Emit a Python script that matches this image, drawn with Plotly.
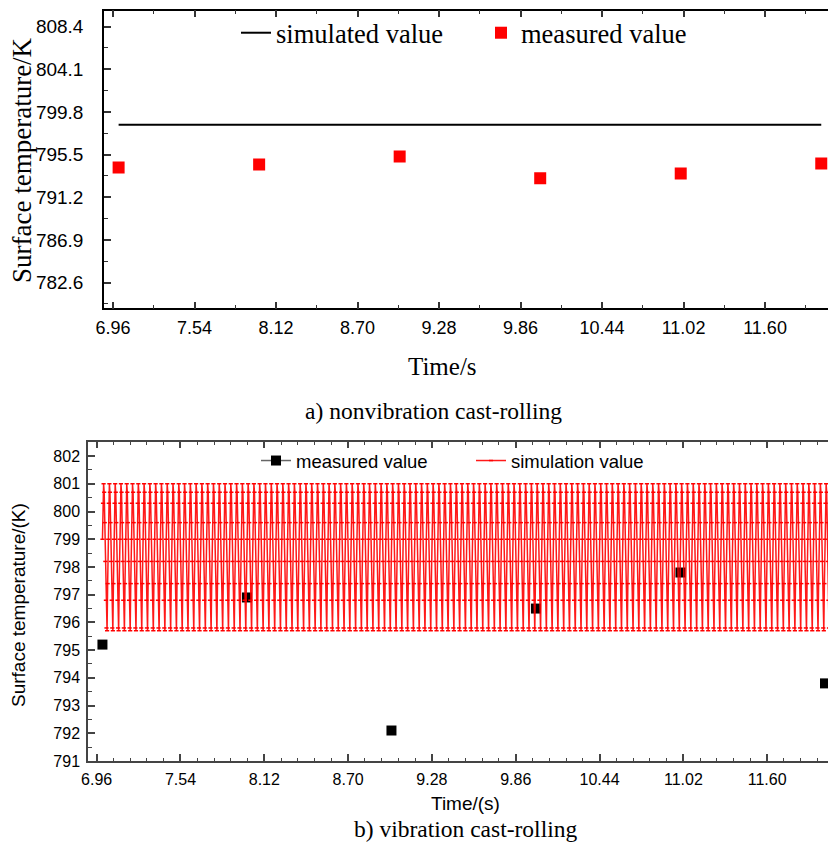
import numpy as np
import plotly.graph_objects as go

W, H = 828, 851

# ---------------- data: (a) nonvibration cast-rolling ----------------
meas_time_a = [7.0, 8.0, 9.0, 10.0, 11.0, 12.0]
meas_temp_a = [794.2, 794.5, 795.3, 793.1, 793.6, 794.6]
sim_time_a = [7.0, 12.0]
sim_temp_a = [798.5, 798.5]

# ---------------- data: (b) vibration cast-rolling ----------------
meas_time_b = [7.0, 8.0, 9.0, 10.0, 11.0, 12.0]
meas_temp_b = [795.2, 796.9, 792.1, 796.5, 797.8, 793.8]
# one oscillation period of the simulated curve
sim_cycle_b = [799.0, 800.3, 801.0, 800.7, 799.6,
               798.2, 796.8, 795.8, 795.7, 797.4]
sim_period_b = 0.04
sim_start_b = 7.0
sim_end_b = 12.03

# ---------------- tick labels ----------------
xticks = [6.96, 7.54, 8.12, 8.70, 9.28, 9.86, 10.44, 11.02, 11.60]
xtick_text = ["6.96", "7.54", "8.12", "8.70", "9.28", "9.86", "10.44", "11.02", "11.60"]
yticks_a = [782.6, 786.9, 791.2, 795.5, 799.8, 804.1, 808.4]
yticks_b = [791, 792, 793, 794, 795, 796, 797, 798, 799, 800, 801, 802]

# build the repeated simulated series on a regular time grid
n_per = len(sim_cycle_b)
step = sim_period_b / n_per
n_pts = int(round((sim_end_b - sim_start_b) / step)) + 1
sim_time_b = sim_start_b + np.arange(n_pts) * step
sim_temp_b = np.tile(sim_cycle_b, n_pts // n_per + 1)[:n_pts]

# measured (b) points separated by gaps so that no connecting line is drawn
mx_b, my_b = [], []
for t, v in zip(meas_time_b, meas_temp_b):
    mx_b += [t, None]
    my_b += [v, None]


def px(x):
    return x / W


def py(y):
    return 1 - y / H


serif = "Liberation Serif, Times New Roman, serif"
sans = "Liberation Sans, Arial, sans-serif"
narrow = "Liberation Sans Narrow, Arial Narrow, Liberation Sans, sans-serif"

fig = go.Figure()

# (a) traces
fig.add_trace(go.Scatter(x=sim_time_a, y=sim_temp_a, mode="lines",
                         line=dict(color="black", width=2),
                         name="simulated value", xaxis="x", yaxis="y",
                         legend="legend"))
fig.add_trace(go.Scatter(x=meas_time_a, y=meas_temp_a, mode="markers",
                         marker=dict(symbol="square", size=12, color="#ff0000"),
                         name="measured value", xaxis="x", yaxis="y",
                         legend="legend"))

# (b) traces
fig.add_trace(go.Scatter(x=mx_b, y=my_b, mode="lines+markers", connectgaps=False,
                         line=dict(color="#666666", width=1.5),
                         marker=dict(symbol="square", size=10, color="black"),
                         name="measured value", xaxis="x2", yaxis="y2",
                         legend="legend2"))
fig.add_trace(go.Scatter(x=sim_time_b, y=sim_temp_b, mode="lines+markers",
                         line=dict(color="rgba(255,0,0,0.9)", width=1.5),
                         marker=dict(symbol="line-ew", size=3, color="red",
                                     line=dict(color="red", width=1.5)),
                         name="simulation value", xaxis="x2", yaxis="y2",
                         legend="legend2"))

# axis geometry (pixels)
a_left, a_top, a_bottom = 104, 10.7, 308.3
b_left, b_top, b_bottom = 88, 441.7, 761

common_axis = dict(showgrid=False, zeroline=False, showline=True, ticks="inside")

fig.update_layout(
    width=W, height=H,
    margin=dict(l=0, r=0, t=0, b=0, pad=0, autoexpand=False),
    paper_bgcolor="white", plot_bgcolor="white",
    xaxis=dict(**common_axis, domain=[px(a_left), 1], anchor="y",
               range=[6.896, 12.048], linecolor="black", linewidth=1.5,
               tickvals=xticks, ticktext=xtick_text, ticklen=7, tickwidth=1.5,
               tickcolor="#333", mirror="ticks", ticklabelstandoff=2,
               tickfont=dict(family=sans, size=18, color="black"),
               minor=dict(dtick=0.29, tick0=6.96, ticklen=4, ticks="inside",
                          tickcolor="#333", tickwidth=1.2)),
    yaxis=dict(**common_axis, domain=[py(a_bottom), py(a_top)], anchor="x",
               range=[780.0, 810.0], linecolor="black", linewidth=1.5,
               tickvals=yticks_a, ticktext=[f"{v:.1f}" for v in yticks_a],
               ticklen=7, tickwidth=1.5, tickcolor="#333",
               ticklabelstandoff=15,
               tickfont=dict(family=narrow, size=19, color="black"),
               minor=dict(dtick=2.15, tick0=782.6, ticklen=4, ticks="inside",
                          tickcolor="#333", tickwidth=1.2)),
    xaxis2=dict(**common_axis, domain=[px(b_left), 1], anchor="y2",
                range=[6.900, 12.021], linecolor="#444", linewidth=1.5,
                tickvals=xticks, ticktext=xtick_text, ticklen=7, tickwidth=1.5,
                tickcolor="#444", mirror="ticks", ticklabelstandoff=3,
                tickfont=dict(family=sans, size=16, color="black"),
                minor=dict(dtick=0.116, tick0=6.96, ticklen=3.5, ticks="inside",
                           tickcolor="#444", tickwidth=1.2)),
    yaxis2=dict(**common_axis, domain=[py(b_bottom), py(b_top)], anchor="x2",
                range=[791.0, 802.52], linecolor="#444", linewidth=1.5,
                tickvals=yticks_b, ticktext=[str(v) for v in yticks_b],
                ticklen=7, tickwidth=1.5, tickcolor="#444",
                ticklabelstandoff=3,
                tickfont=dict(family=sans, size=16, color="black"),
                minor=dict(dtick=0.5, tick0=791, ticklen=4, ticks="inside",
                           tickcolor="#444", tickwidth=1.2)),
    legend=dict(orientation="h", x=px(236), y=py(33), xanchor="left", yanchor="middle",
                font=dict(family=serif, size=26.5, color="black"),
                bgcolor="rgba(0,0,0,0)", itemwidth=30, tracegroupgap=0,
                entrywidth=200),
    legend2=dict(orientation="h", x=px(256), y=py(461), xanchor="left", yanchor="middle",
                 font=dict(family=sans, size=18.5, color="black"),
                 bgcolor="rgba(0,0,0,0)", itemwidth=30,
                 entrywidth=170),
    showlegend=True,
)

annotations = [
    dict(text="Surface temperature/K", x=px(22), y=py(160), textangle=-90,
         font=dict(family=serif, size=27, color="black")),
    dict(text="Time/s", x=px(442), y=py(367),
         font=dict(family=serif, size=25, color="black")),
    dict(text="a) nonvibration cast-rolling", x=px(433), y=py(411),
         font=dict(family=serif, size=23.5, color="black")),
    dict(text="Surface temperature/(K)", x=px(18), y=py(605), textangle=-90,
         font=dict(family=sans, size=19, color="black")),
    dict(text="Time/(s)", x=px(465), y=py(803),
         font=dict(family=sans, size=19, color="black")),
    dict(text="b) vibration cast-rolling", x=px(466), y=py(829),
         font=dict(family=serif, size=23.5, color="black")),
]
for a in annotations:
    a.update(xref="paper", yref="paper", showarrow=False,
             xanchor="center", yanchor="middle")
fig.update_layout(annotations=annotations)

fig.write_html("out.html")
